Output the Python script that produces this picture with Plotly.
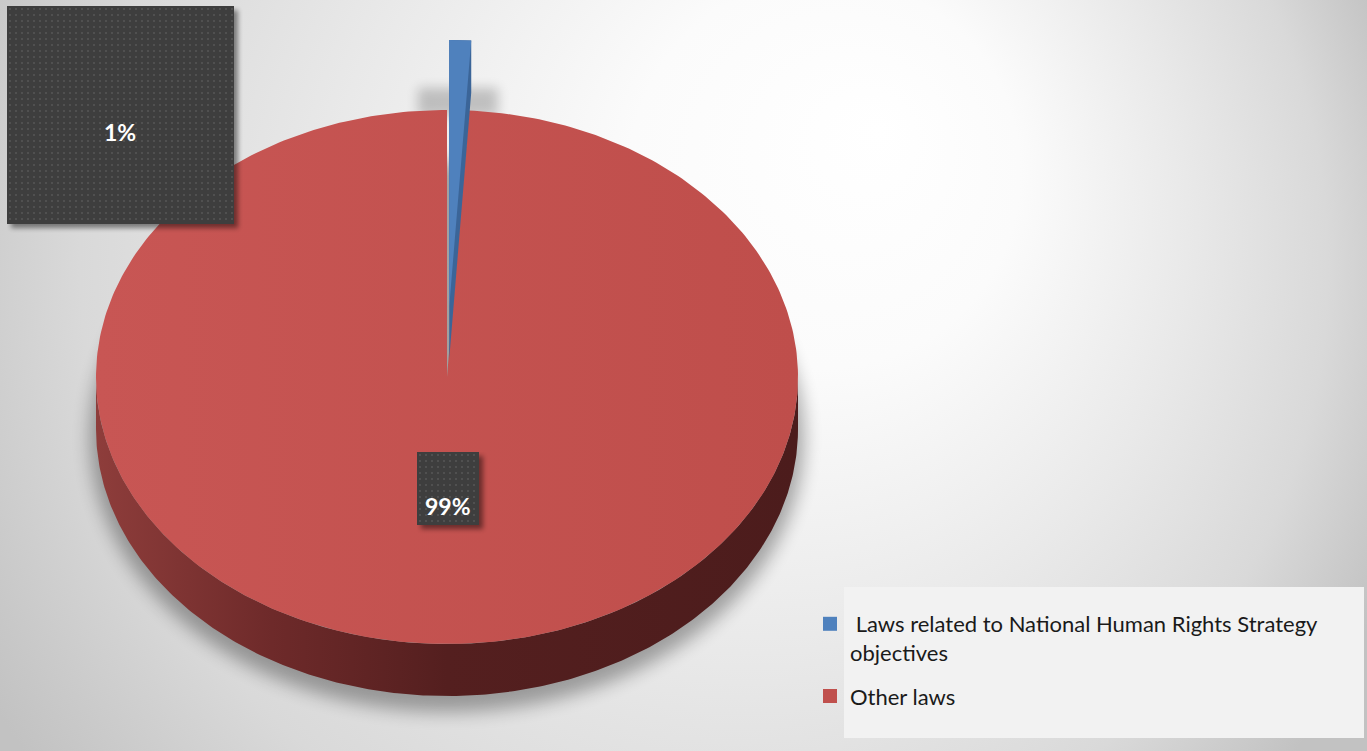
import base64
import numpy as np
import plotly.graph_objects as go

# ---------------- data ----------------
labels = ["Laws related to National Human Rights Strategy objectives", "Other laws"]
legend_labels = [" Laws related to National Human Rights Strategy<br>objectives", "Other laws"]
values = [1, 99]
top_colors = ["#4f81bd", "#c0504d"]
side_colors = ["#3b6598", "#5a2323"]
pulls = [70, 0]  # pixel explode of each slice

# ---------------- geometry (layout constants) ----------------
W, H = 1367, 751
CX, CY, RX, RY, DEPTH = 447, 377, 351, 267, 52


def rim(phi, dx=0.0, dy=0.0):
    r = np.radians(phi)
    return CX + dx + RX * np.sin(r), CY + dy - RY * np.cos(r)


def svg_uri(svg):
    return "data:image/svg+xml;base64," + base64.b64encode(svg.encode()).decode()


total = float(sum(values))
spans = []
a = 0.0
for v in values:
    spans.append((a, a + 360.0 * v / total))
    a += 360.0 * v / total

fig = go.Figure()

order = [1, 0]
for i in order:
    a0, a1 = spans[i]
    mid = np.radians((a0 + a1) / 2)
    dx = pulls[i] * np.sin(mid)
    dy = -pulls[i] * np.cos(mid)
    phis = np.linspace(a0, a1, 400)
    lo, hi = max(a0, 90.0), min(a1, 270.0)
    if lo < hi:
        sp = np.linspace(lo, hi, 300)
        xs, ys = rim(sp, dx, dy)
        sx = np.concatenate([xs, xs[::-1]])
        sy = np.concatenate([ys, ys[::-1] + DEPTH])
        fig.add_trace(go.Scatter(
            x=sx, y=sy, mode="lines", fill="toself", line=dict(width=0),
            fillgradient=dict(type="horizontal",
                              colorscale=[[0, "#8e3d3b"], [0.25, "#6e2a2a"],
                                          [0.5, "#541f1f"], [1, "#4c1c1c"]]),
            hoverinfo="skip", showlegend=False))
    else:
        xs, ys = rim(phis, dx, dy)
        ax, ay = CX + dx, CY + dy
        px = np.concatenate([[ax], xs, [xs[-1], ax]])
        py = np.concatenate([[ay], ys, [ys[-1] + DEPTH, ay + DEPTH]])
        fig.add_trace(go.Scatter(
            x=px, y=py, mode="lines", fill="toself", line=dict(width=0),
            fillcolor=side_colors[i], hoverinfo="skip", showlegend=False))
    xs, ys = rim(phis, dx, dy)
    tx = np.concatenate([[CX + dx], xs, [CX + dx]])
    ty = np.concatenate([[CY + dy], ys, [CY + dy]])
    if i == 1:
        fig.add_trace(go.Scatter(
            x=tx, y=ty, mode="lines", fill="toself", line=dict(width=0),
            fillgradient=dict(type="horizontal",
                              colorscale=[[0, "#c85654"], [1, "#bf4e4b"]]),
            name=labels[i], hoverinfo="name", showlegend=False))
    else:
        fig.add_trace(go.Scatter(
            x=tx, y=ty, mode="lines", fill="toself", line=dict(width=0),
            fillcolor=top_colors[i], name=labels[i], hoverinfo="name",
            showlegend=False))

# --- legend entries ---
for i in range(len(values)):
    fig.add_trace(go.Scatter(
        x=[None], y=[None], mode="markers",
        marker=dict(symbol="square", size=14, color=top_colors[i]),
        name=legend_labels[i], legendgroup=str(i), showlegend=True))

# ---------------- background (radial gradient + soft shadows) ----------------
bg_svg = f'''<svg xmlns="http://www.w3.org/2000/svg" width="{W}" height="{H}" viewBox="0 0 {W} {H}" preserveAspectRatio="none">
<defs>
<radialGradient id="g" gradientUnits="userSpaceOnUse" cx="660" cy="300" r="780" fx="880" fy="130">
<stop offset="0" stop-color="#ffffff"/>
<stop offset="0.25" stop-color="#fbfbfb"/>
<stop offset="0.55" stop-color="#e9e9e9"/>
<stop offset="0.8" stop-color="#d9d9d9"/>
<stop offset="1" stop-color="#c2c2c2"/>
</radialGradient>
<filter id="b1" x="-20%" y="-20%" width="140%" height="140%"><feGaussianBlur stdDeviation="9"/></filter>
<filter id="b2" x="-50%" y="-50%" width="200%" height="200%"><feGaussianBlur stdDeviation="6"/></filter>
</defs>
<rect width="{W}" height="{H}" fill="url(#g)"/>
<ellipse cx="{CX}" cy="{CY + DEPTH + 8}" rx="{RX + 6}" ry="{RY + 8}" fill="#000" opacity="0.32" filter="url(#b1)"/>
<rect x="418" y="88" width="80" height="28" fill="#000" opacity="0.2" filter="url(#b2)"/>
</svg>'''


def label_box(w, h):
    return f'''<svg xmlns="http://www.w3.org/2000/svg" width="{w + 10}" height="{h + 10}" viewBox="0 0 {w + 10} {h + 10}">
<defs>
<pattern id="p" width="6" height="6" patternUnits="userSpaceOnUse">
<rect width="6" height="6" fill="#3e3e3e"/><rect x="2" y="2" width="2" height="2" fill="#505050"/>
</pattern>
<filter id="s" x="-20%" y="-20%" width="140%" height="140%"><feGaussianBlur stdDeviation="2.5"/></filter>
</defs>
<rect x="4" y="4" width="{w}" height="{h}" fill="#000" opacity="0.45" filter="url(#s)"/>
<rect x="0" y="0" width="{w}" height="{h}" fill="url(#p)"/>
</svg>'''


def paper_img(src, x, y, w, h, layer):
    return dict(source=src, xref="paper", yref="paper", x=x / W, y=1 - y / H,
                sizex=w / W, sizey=h / H, xanchor="left", yanchor="top",
                sizing="stretch", layer=layer)


boxes = [(7, 6, 227, 218, 120, 132), (417, 452, 62, 73, 448, 506)]
images = [paper_img(svg_uri(bg_svg), 0, 0, W, H, "below")]
annotations = []
for i, (bx, by, bw, bh, tx, ty) in enumerate(boxes):
    images.append(paper_img(svg_uri(label_box(bw, bh)), bx, by, bw + 10, bh + 10, "above"))
    pct = 100.0 * values[i] / total
    annotations.append(dict(x=tx, y=ty, xref="x", yref="y", text=f"<b>{pct:.0f}%</b>",
                            showarrow=False, xanchor="center", yanchor="middle",
                            font=dict(family="Lato", size=23, color="#ffffff")))

shapes = [dict(type="rect", xref="x", yref="y", x0=844, x1=1364, y0=587, y1=738,
               fillcolor="#f2f2f2", line=dict(width=0), layer="above")]

fig.update_layout(
    width=W, height=H, margin=dict(l=0, r=0, t=0, b=0),
    paper_bgcolor="#e0e0e0", plot_bgcolor="rgba(0,0,0,0)",
    xaxis=dict(range=[0, W], visible=False, fixedrange=True),
    yaxis=dict(range=[H, 0], visible=False, fixedrange=True),
    images=images, annotations=annotations, shapes=shapes,
    showlegend=True,
    legend=dict(x=810 / W, y=1 - 603 / H, xanchor="left", yanchor="top",
                bgcolor="rgba(0,0,0,0)", borderwidth=0, valign="top",
                font=dict(family="Lato", size=22, color="#1a1a1a"),
                itemsizing="trace", traceorder="grouped", tracegroupgap=12),
)

fig.write_html("out.html")
